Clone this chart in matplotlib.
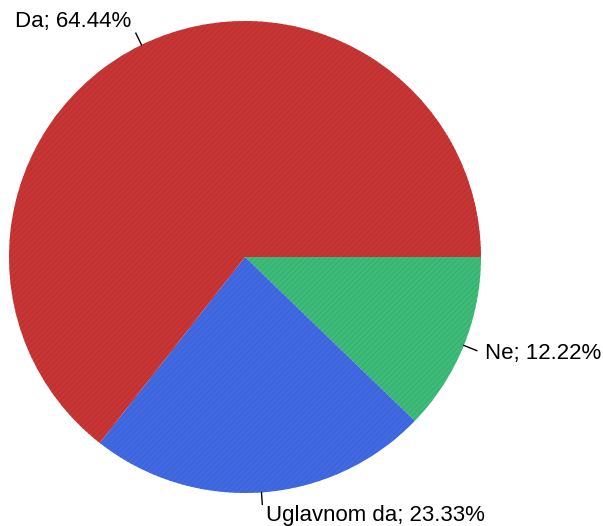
import matplotlib
matplotlib.use("Agg")
import matplotlib.pyplot as plt
import numpy as np

categories = ["Ne", "Uglavnom da", "Da"]
values = [12.22, 23.33, 64.44]
colors = ["#3dbb78", "#4169e1", "#c83535"]
hatch_colors = ["#37a86c", "#3a60d0", "#b52e2e"]

plt.rcParams['font.family'] = ['Liberation Sans', 'DejaVu Sans']
plt.rcParams['hatch.linewidth'] = 0.5
W, H = 603, 526
fig = plt.figure(figsize=(W/100, H/100), dpi=100)
ax = fig.add_axes([0, 0, 1, 1])

cx, cy, R = 245, 269, 236
wedges, _ = ax.pie(values, colors=colors, startangle=0, counterclock=False,
                   center=(cx, cy), radius=R, frame=True,
                   wedgeprops=dict(linewidth=0))
for w, hc in zip(wedges, hatch_colors):
    w.set_hatch('//////')
    w.set_edgecolor(hc)
    w.set_linewidth(0)
ax.set_xlim(0, W)
ax.set_ylim(0, H)
ax.axis('off')

label_cfg = {
    "Da": dict(r2=R + 13, tx=131, ty=H - 22, ha='right'),
    "Ne": dict(r2=R + 14, tx=485, ty=H - 354, ha='left'),
    "Uglavnom da": dict(r2=R + 12, tx=266, ty=H - 515, ha='left'),
}
for w, cat, v in zip(wedges, categories, values):
    mid = np.deg2rad((w.theta1 + w.theta2) / 2)
    cfg = label_cfg[cat]
    x1, y1 = cx + R * np.cos(mid), cy + R * np.sin(mid)
    x2, y2 = cx + cfg['r2'] * np.cos(mid), cy + cfg['r2'] * np.sin(mid)
    ax.plot([x1, x2], [y1, y2], color='black', lw=1)
    ax.text(cfg['tx'], cfg['ty'], f"{cat}; {v:.2f}%", ha=cfg['ha'], va='center',
            fontsize=16, color='black')

fig.savefig("out.png", dpi=100)
